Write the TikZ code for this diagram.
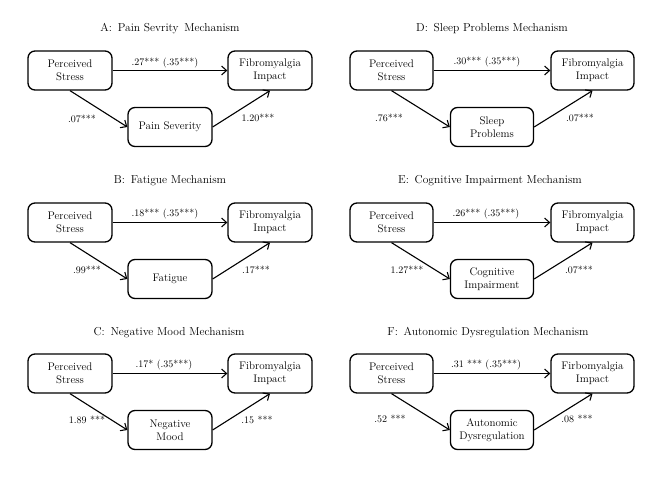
\documentclass[tikz,border=0pt]{standalone}
\usetikzlibrary{arrows.meta}
\begin{document}
\begin{tikzpicture}[x=1pt,y=-1pt,
  box/.style={draw, line width=1.3pt, rounded corners=7pt, minimum width=84pt, minimum height=39pt, align=center, inner sep=0pt, font=\fontsize{11}{13}\selectfont},
  rbox/.style={box, minimum width=83pt},
  arr/.style={-{Straight Barb[length=5pt,width=9pt,line width=1.1pt]}, line width=1.1pt},
  lbl/.style={font=\fontsize{10}{12}\selectfont, inner sep=0pt},
  ttl/.style={font=\fontsize{11.5}{13}\selectfont, inner sep=0pt}]
\useasboundingbox (0,0) rectangle (667,500);
\fill[white] (0,0) rectangle (667,500);

% ---------- Panel A ----------
\node[ttl] (tA) at (170,29) {A:\enspace Pain Sevrity\enspace Mechanism};
\node[box] (psA) at (70,70.5) {Perceived\\Stress};
\node[box] (fiA) at (270,70.5) {Fibromyalgia\\Impact};
\node[box] (mA) at (170,127) {Pain Severity};
\draw[arr] (psA) -- (fiA);
\draw[arr] (psA.south) -- (mA.west);
\draw[arr] (mA.east) -- (fiA.south);
\node[lbl] (dA) at (165,63) {.27*** (.35***)};
\node[lbl] (aA) at (82,119) {.07***};
\node[lbl] (bA) at (258,118) {1.20***};

% ---------- Panel D ----------
\node[ttl] (tD) at (492,29) {D:\enspace Sleep Problems Mechanism};
\node[rbox] (psD) at (391.5,70.5) {Perceived\\Stress};
\node[rbox] (fiD) at (592.5,70.5) {Fibromyalgia\\Impact};
\node[rbox] (mD) at (492,127) {Sleep\\Problems};
\draw[arr] (psD) -- (fiD);
\draw[arr] (psD.south) -- (mD.west);
\draw[arr] (mD.east) -- (fiD.south);
\node[lbl] (dD) at (487,62) {.30*** (.35***)};
\node[lbl] (aD) at (389,118) {.76***};
\node[lbl] (bD) at (580,118) {.07***};

% ---------- Panel B ----------
\node[ttl] (tB) at (170,181) {B:\enspace Fatigue Mechanism};
\node[box] (psB) at (70,222.5) {Perceived\\Stress};
\node[box] (fiB) at (270,222.5) {Fibromyalgia\\Impact};
\node[box] (mB) at (170,279) {Fatigue};
\draw[arr] (psB) -- (fiB);
\draw[arr] (psB.south) -- (mB.west);
\draw[arr] (mB.east) -- (fiB.south);
\node[lbl] (dB) at (165,214) {.18*** (.35***)};
\node[lbl] (aB) at (87,270) {.99***};
\node[lbl] (bB) at (256,270) {.17***};

% ---------- Panel E ----------
\node[ttl] (tE) at (490,181) {E:\enspace Cognitive Impairment Mechanism};
\node[rbox] (psE) at (391.5,222.5) {Perceived\\Stress};
\node[rbox] (fiE) at (592.5,222.5) {Fibromyalgia\\Impact};
\node[rbox] (mE) at (492,279) {Cognitive\\Impairment};
\draw[arr] (psE) -- (fiE);
\draw[arr] (psE.south) -- (mE.west);
\draw[arr] (mE.east) -- (fiE.south);
\node[lbl] (dE) at (486,214) {.26*** (.35***)};
\node[lbl] (aE) at (407,270) {1.27***};
\node[lbl] (bE) at (579,270) {.07***};

% ---------- Panel C ----------
\node[ttl] (tC) at (169,333) {C:\enspace Negative Mood Mechanism};
\node[box] (psC) at (70,373.5) {Perceived\\Stress};
\node[box] (fiC) at (270,373.5) {Fibromyalgia\\Impact};
\node[box] (mC) at (170,430) {Negative\\Mood};
\draw[arr] (psC) -- (fiC);
\draw[arr] (psC.south) -- (mC.west);
\draw[arr] (mC.east) -- (fiC.south);
\node[lbl] (dC) at (164,365) {.17* (.35***)};
\node[lbl] (aC) at (87,420) {1.89 ***};
\node[lbl] (bC) at (257,420) {.15 ***};

% ---------- Panel F ----------
\node[ttl] (tF) at (488,333) {F:\enspace Autonomic Dysregulation Mechanism};
\node[rbox] (psF) at (391.5,373.5) {Perceived\\Stress};
\node[rbox] (fiF) at (592.5,373.5) {Firbomyalgia\\Impact};
\node[rbox] (mF) at (492,430) {Autonomic\\Dysregulation};
\draw[arr] (psF) -- (fiF);
\draw[arr] (psF.south) -- (mF.west);
\draw[arr] (mF.east) -- (fiF.south);
\node[lbl] (dF) at (486,365) {.31 *** (.35***)};
\node[lbl] (aF) at (390,419) {.52 ***};
\node[lbl] (bF) at (577,419) {.08 ***};
\end{tikzpicture}
\end{document}
